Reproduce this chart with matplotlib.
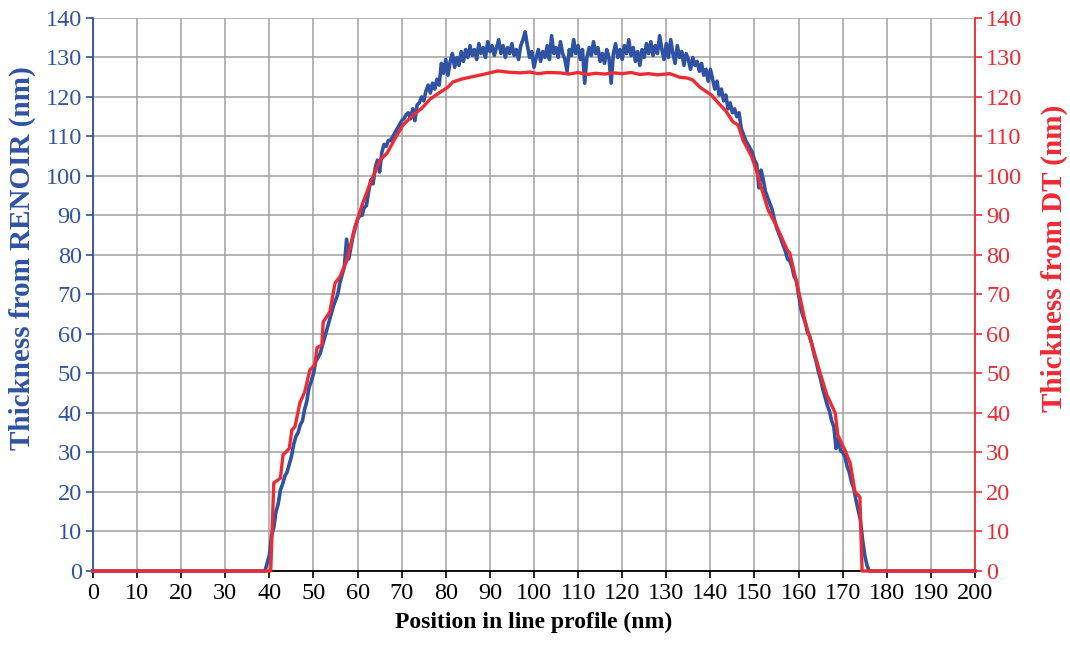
import numpy as np
import matplotlib
matplotlib.use("Agg")
import matplotlib.pyplot as plt

plt.rcParams['font.family'] = ['Liberation Serif', 'DejaVu Serif']

# DT thickness (red) as (position, value) pairs
dt_x = [0, 40.3, 41.0, 42.5, 43.1, 44.5, 45.1, 45.8, 46.9, 48.0, 49.2, 50.3, 50.8, 51.9,
        52.2, 53.7, 54.9, 56.0, 57.6, 59.4, 61.2, 63.0, 65.1, 66.7, 68.5, 70.3, 72.5,
        74.6, 76.5, 78.7, 80.5, 81.6, 83.5, 85.5, 88.0, 90.0, 91.8, 94.0, 96.8, 99.0,
        101.0, 103.0, 105.9, 108.0, 110.0, 112.0, 114.0, 116.0, 118.0, 120.0, 122.0,
        124.0, 126.0, 128.0, 130.8, 133.0, 134.7, 136.0, 137.6, 140.2, 142.2, 143.5,
        145.1, 146.3, 147.4, 149.4, 150.6, 151.7, 153.1, 155.1, 157.4, 158.0, 160.3,
        161.5, 163.7, 164.9, 166.4, 168.3, 168.9, 170.5, 171.7, 172.8, 173.9, 174.4, 200]
dt_y = [0, 0, 22.3, 23.5, 29.4, 31.0, 35.7, 36.5, 42.5, 45.3, 50.9, 52.2, 56.5, 57.2,
        63.0, 65.6, 72.9, 74.5, 78.7, 87.1, 93.2, 98.5, 104.0, 105.8, 109.5, 112.9, 115.3,
        117.2, 119.5, 121.2, 122.5, 123.8, 124.5, 125.0, 125.6, 126.1, 126.6, 126.3, 126.1,
        126.3, 125.9, 126.2, 126.1, 125.8, 126.2, 125.7, 126.0, 125.8, 126.1, 125.9, 126.2,
        125.7, 125.9, 125.6, 125.9, 125.0, 124.8, 124.3, 122.5, 120.5, 118.0, 116.5,
        113.7, 112.9, 109.1, 104.8, 100.8, 96.5, 91.4, 87.1, 81.3, 80.5, 69.4,
        63.0, 54.7, 50.1, 44.6, 40.0, 34.4, 30.6, 27.3, 20.0, 18.7, 0, 0]

# RENOIR thickness (blue), sampled every 0.5 nm from 38.5 nm
renoir_start = 38.5
renoir_step = 0.5
renoir_y = [
    0, 0, 2, 4, 9, 11, 15, 17, 20.5, 22,
    24, 25, 27, 29, 32, 34, 35, 37, 38, 41,
    43, 46.5, 48, 50, 53, 54, 55, 57, 59, 61,
    63, 65, 67, 68.5, 70, 73, 75, 77, 84, 79,
    82, 85, 87, 89, 90, 90, 92, 92.5, 96, 99,
    98, 102, 104, 101, 106, 108, 107.5, 109, 109, 110,
    111, 112, 113, 114, 114.5, 115.5, 116, 114.5, 117, 114,
    118, 118.5, 120, 119, 121.5, 123, 121, 123.5, 122, 124.5,
    123, 128.5, 126, 129.5, 125.5, 129, 131, 127.5, 130, 128,
    131.5, 129, 132, 130, 133, 130.5, 132, 129.5, 133.5, 131,
    132.5, 130, 134, 131.5, 133, 130.5, 132.5, 134.5, 131, 133,
    130, 132.5, 131, 133.5, 130.5, 132, 129.5, 133, 134.5, 136.5,
    133, 130, 131.5, 127.5, 130, 132, 129, 131.5, 130, 133,
    129.5, 135.5, 131, 132.5, 130, 134, 131, 129.5, 126.5, 132,
    130.5, 134.5, 131, 133, 129.5, 132, 123.5, 130, 132.5, 130.5,
    134, 131, 132.5, 129, 131, 128.5, 132, 130, 123.5, 131,
    133.5, 130, 132, 129.5, 133, 131, 134.5, 130.5, 132.5, 129,
    131.5, 128, 132, 130, 133.5, 131, 134, 130.5, 133, 131,
    135.5, 132, 129.5, 133.5, 130, 134.5, 131, 128.5, 133, 130,
    131.5, 128, 131, 129.5, 127, 130, 128, 129, 126.5, 128.5,
    125.5, 127, 124, 127, 124.5, 122, 124, 120.5, 122, 119,
    120.5, 117, 118.5, 116, 117, 115, 116, 112, 110.5, 109,
    108, 107, 106, 104, 103, 97, 101.5, 99, 96, 94.5,
    93, 91.5, 89, 87, 85.5, 84, 82.5, 81, 79, 78.5,
    77, 74.5, 73.5, 70, 66.5, 64.5, 63, 60.5, 59.5, 57.5,
    55, 53, 50.5, 48.5, 46, 44, 42, 40.5, 38, 36.5,
    31, 33.5, 30.5, 30, 29, 26.5, 25, 22.5, 21, 18,
    15.5, 13, 8, 4, 1.5, 0,
]

x_ticks = list(range(0, 201, 10))
y_ticks = list(range(0, 141, 10))

blue = '#2f52a3'
red = '#ee2a33'

renoir_x = renoir_start + renoir_step * np.arange(len(renoir_y))
renoir_x = np.concatenate([[0], renoir_x, [200]])
renoir_full = np.concatenate([[0], renoir_y, [0]])

fig = plt.figure(figsize=(10.7, 6.51), dpi=100)
ax = fig.add_axes([0.0869, 0.1229, 0.8243, 0.8495])
ax2 = ax.twinx()

ax.plot(renoir_x, renoir_full, color=blue, lw=2.6, clip_on=False, zorder=3)
ax2.plot(dt_x, dt_y, color=red, lw=2.4, clip_on=False, zorder=3)

for a in (ax, ax2):
    a.set_xlim(0, 200)
    a.set_ylim(0, 140)
    a.set_yticks(y_ticks)

ax.set_xticks(x_ticks)
ax.grid(True, color='#a0a0a0', lw=1.1)
ax.set_axisbelow(True)

ax.spines['top'].set_visible(False)
ax.spines['right'].set_visible(False)
ax2.spines['top'].set_visible(False)
ax2.spines['left'].set_visible(False)
ax2.spines['bottom'].set_visible(False)
ax.spines['left'].set_color(blue)
ax2.spines['right'].set_color(red)
ax.spines['bottom'].set_color('black')
for s in (ax.spines['left'], ax2.spines['right'], ax.spines['bottom']):
    s.set_linewidth(1.3)

ax.tick_params(axis='y', colors=blue, labelsize=17.5, length=5, width=1.2, pad=3)
ax2.tick_params(axis='y', colors=red, labelsize=17.5, length=5, width=1.2, pad=3)
ax.tick_params(axis='x', colors='black', labelsize=17.5, length=5, width=1.2, pad=4)

ax.set_xlabel('Position in line profile (nm)', fontsize=17, fontweight='bold', labelpad=5)
ax.set_ylabel('Thickness from RENOIR (nm)', fontsize=21, fontweight='bold', color=blue)
ax2.set_ylabel('Thickness from DT (nm)', fontsize=21, fontweight='bold', color=red)
# labels sit a bit above the axis middle in the original
ax.yaxis.set_label_coords(-0.065, 0.566)
ax2.yaxis.set_label_coords(1.075, 0.566)

fig.savefig('out.png', dpi=100)
